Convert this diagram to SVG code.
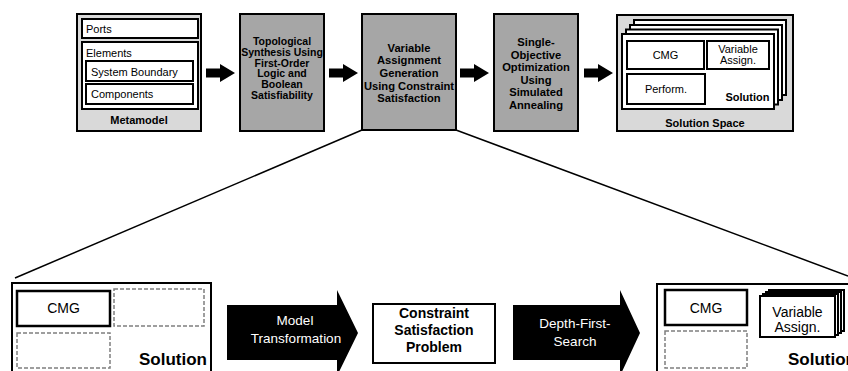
<svg xmlns="http://www.w3.org/2000/svg" width="848" height="371" viewBox="0 0 848 371">
  <style>
    text { font-family: "Liberation Sans", Arial, sans-serif; fill: #000; }
    .b { font-weight: bold; }
    .c { text-anchor: middle; }
    .e { text-anchor: end; }
    .s11 { font-size: 11px; }
    .t105 { font-size: 10.5px; }
    .t112 { font-size: 11.2px; }
    .s14 { font-size: 14px; }
    .s135 { font-size: 13.5px; }
    .box { fill: #fff; stroke: #000; stroke-width: 2; }
    .frame { fill: #d9d9d9; stroke: #000; stroke-width: 2; }
    .step { fill: #a6a6a6; stroke: #000; stroke-width: 2; }
    .dash { fill: #fff; stroke: #7f7f7f; stroke-width: 1.5; stroke-dasharray: 4 2; }
    .arrow { fill: #000; }
    .link { stroke: #000; stroke-width: 1.5; fill: none; }
    .white { fill: #fff; }
  </style>

  <!-- Process chain, top row -->
  <g id="metamodel">
    <rect class="frame" x="77" y="14" width="124" height="117"/>
    <rect class="box" x="82" y="19" width="116" height="19"/>
    <text class="s11" x="86" y="33">Ports</text>
    <rect class="box" x="82" y="42" width="116" height="67"/>
    <text class="s11" x="86" y="56.5">Elements</text>
    <rect class="box" x="86" y="61" width="107" height="20"/>
    <text class="s11" x="91" y="75.5">System Boundary</text>
    <rect class="box" x="86" y="84" width="107" height="20"/>
    <text class="s11" x="91" y="98">Components</text>
    <text class="b c s11" x="139" y="123.5">Metamodel</text>
  </g>

  <g id="topological-synthesis">
    <rect class="step" x="240" y="14" width="84" height="117"/>
    <text class="b c t105" x="282" y="45">Topological</text>
    <text class="b c t105" x="282" y="55.8">Synthesis Using</text>
    <text class="b c t105" x="282" y="66.6">First-Order</text>
    <text class="b c t105" x="282" y="77.4">Logic and</text>
    <text class="b c t105" x="282" y="88.2">Boolean</text>
    <text class="b c t105" x="282" y="99">Satisfiability</text>
  </g>

  <g id="variable-assignment">
    <rect class="step" x="362" y="14" width="94" height="116"/>
    <text class="b c t112" x="409" y="51.7">Variable</text>
    <text class="b c t112" x="409" y="64.3">Assignment</text>
    <text class="b c t112" x="409" y="77">Generation</text>
    <text class="b c t112" x="409" y="89.6">Using Constraint</text>
    <text class="b c t112" x="409" y="102.3">Satisfaction</text>
  </g>

  <g id="optimization">
    <rect class="step" x="494" y="14" width="84" height="117"/>
    <text class="b c t112" x="536" y="46">Single-</text>
    <text class="b c t112" x="536" y="58.6">Objective</text>
    <text class="b c t112" x="536" y="71.2">Optimization</text>
    <text class="b c t112" x="536" y="83.8">Using</text>
    <text class="b c t112" x="536" y="96.4">Simulated</text>
    <text class="b c t112" x="536" y="109">Annealing</text>
  </g>

  <g id="solution-space">
    <rect class="frame" x="617" y="15" width="176" height="116"/>
    <!-- stacked solutions, back to front -->
    <rect class="box" x="634" y="20" width="152" height="75"/>
    <rect class="box" x="630" y="25" width="152" height="75"/>
    <rect class="box" x="626" y="29.5" width="152" height="75"/>
    <rect class="box" x="622" y="34" width="152" height="75"/>
    <rect class="box" x="627" y="41" width="77" height="28"/>
    <text class="c s11" x="665.5" y="59">CMG</text>
    <rect class="box" x="707" y="41" width="62" height="28"/>
    <text class="c s11" x="738" y="52.5">Variable</text>
    <text class="c s11" x="738" y="63.5">Assign.</text>
    <rect class="box" x="627" y="74" width="78" height="30"/>
    <text class="c s11" x="666" y="93">Perform.</text>
    <text class="b e s11" x="769.5" y="100.5">Solution</text>
    <text class="b c s11" x="705" y="126.5">Solution Space</text>
  </g>

  <!-- Detail of the assignment step, bottom row -->
  <g id="solution-input">
    <rect class="box" x="12" y="283" width="199" height="110"/>
    <rect class="box" x="17" y="291" width="93" height="35" style="stroke-width:2.5"/>
    <text class="c s14" x="63.5" y="313">CMG</text>
    <rect class="dash" x="114" y="289" width="90" height="37"/>
    <rect class="dash" x="17" y="333" width="93" height="35"/>
    <text class="b e" x="207" y="365" style="font-size:17px">Solution</text>
  </g>

  <g id="model-transformation">
    <polygon class="arrow" points="227,305 337,305 337,290 358,333 337,376 337,360 227,360"/>
    <text class="white c s135" x="295" y="325">Model</text>
    <text class="white c s135" x="296" y="343">Transformation</text>
  </g>

  <g id="csp">
    <rect class="box" x="373" y="304" width="122" height="59"/>
    <text class="b c s14" x="434" y="318">Constraint</text>
    <text class="b c s14" x="434" y="335">Satisfaction</text>
    <text class="b c s14" x="434" y="352">Problem</text>
  </g>

  <g id="depth-first-search">
    <polygon class="arrow" points="513,305 620,305 620,290 640,333 620,376 620,360 513,360"/>
    <text class="white c s135" x="575" y="328">Depth-First-</text>
    <text class="white c s135" x="575" y="346">Search</text>
  </g>

  <g id="solution-output">
    <rect class="box" x="657" y="284" width="220" height="110"/>
    <rect class="box" x="665" y="290" width="82" height="35" style="stroke-width:2.5"/>
    <text class="c s14" x="706" y="313">CMG</text>
    <rect class="dash" x="665" y="331" width="82" height="37"/>
    <!-- stacked variable assignments, back to front -->
    <rect class="box" x="769" y="290" width="75" height="41"/>
    <rect class="box" x="766" y="292" width="75" height="41"/>
    <rect class="box" x="763" y="294" width="75" height="41"/>
    <rect class="box" x="760" y="296" width="75" height="41"/>
    <text class="c s14" x="797.5" y="317">Variable</text>
    <text class="c s14" x="797.5" y="332">Assign.</text>
    <text class="b" x="788" y="365" style="font-size:17px">Solution</text>
  </g>

  <g id="connectors">
    <polygon class="arrow" points="206,68.5 220,68.5 220,64 235,73 220,82 220,77.5 206,77.5"/>
    <polygon class="arrow" points="329,68.5 343,68.5 343,64 358,73 343,82 343,77.5 329,77.5"/>
    <polygon class="arrow" points="460,68.5 474,68.5 474,64 489,73 474,82 474,77.5 460,77.5"/>
    <polygon class="arrow" points="584,68.5 598,68.5 598,64 613,73 598,82 598,77.5 584,77.5"/>
    <line class="link" x1="362" y1="130" x2="15" y2="278"/>
    <line class="link" x1="456" y1="130" x2="848" y2="276"/>
  </g>
</svg>
